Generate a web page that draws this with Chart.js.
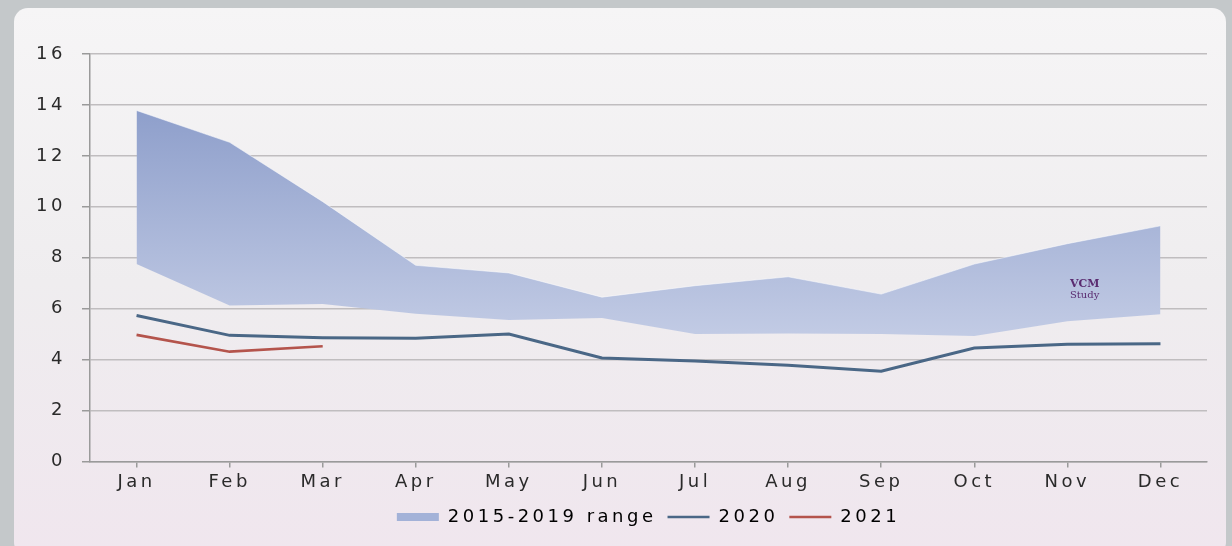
<!DOCTYPE html>
<html>
<head>
<meta charset="utf-8">
<script src="https://cdn.jsdelivr.net/npm/chart.js@4/dist/chart.umd.min.js"></script>
<style>
	html, body { margin: 0; padding: 0; }
	body { width: 1232px; height: 546px; background: #c4c8ca; position: relative; overflow: hidden; }
	#panel {
		position: absolute; left: 14px; top: 8px; width: 1212px; height: 548px;
		border-radius: 14px;
		background: linear-gradient(to bottom, #f6f5f6 0%, #efedef 50%, #f0e6ee 100%);
	}
	#wrap { position: absolute; left: 0; top: 0; width: 1232px; height: 546px; }
	#mark { position: absolute; left: 1070px; top: 278px; font-family: "DejaVu Serif", serif; color: #5a2b70; font-size: 10px; line-height: 11px; }
	#mark b { font-size: 11px; }
</style>
</head>
<body>
<div id="panel"></div>
<div id="wrap"><canvas id="chart" width="1232" height="546"></canvas></div>
<div id="mark"><b>VCM</b><br>Study</div>
<script>
var months = ["Jan", "Feb", "Mar", "Apr", "May", "Jun", "Jul", "Aug", "Sep", "Oct", "Nov", "Dec"];
var rangeHigh = [13.78, 12.53, 10.2, 7.7, 7.4, 6.45, 6.9, 7.25, 6.57, 7.75, 8.55, 9.25];
var rangeLow = [7.75, 6.12, 6.18, 5.8, 5.55, 5.63, 5.0, 5.02, 5.0, 4.92, 5.5, 5.78];
var y2020 = [5.73, 4.95, 4.86, 4.84, 5.0, 4.06, 3.94, 3.78, 3.54, 4.45, 4.6, 4.62];
var y2021 = [4.97, 4.31, 4.52, null, null, null, null, null, null, null, null, null];
var yTicks = [0, 2, 4, 6, 8, 10, 12, 14, 16];

document.addEventListener("DOMContentLoaded", function () {
	var ctx = document.getElementById("chart").getContext("2d");

	// wide letter spacing like the original font
	var spacing = {
		id: "spacing",
		beforeLayout: function (chart) { chart.ctx.letterSpacing = "3.5px"; },
		beforeDraw: function (chart) { chart.ctx.letterSpacing = "3.5px"; }
	};

	function rangeFill(context) {
		var area = context.chart.chartArea;
		if (!area) return "#a9b6d8";
		var g = context.chart.ctx.createLinearGradient(0, 100, 0, 340);
		g.addColorStop(0, "#8c9dca");
		g.addColorStop(1, "#c3cce5");
		return g;
	}

	var chart = new Chart(ctx, {
		type: "line",
		data: {
			labels: months,
			datasets: [
				{
					label: "low",
					data: rangeLow,
					borderWidth: 0,
					pointRadius: 0,
					fill: false
				},
				{
					label: "2015-2019 range",
					data: rangeHigh,
					borderWidth: 1,
					borderColor: "rgba(255,255,255,0.5)",
					backgroundColor: rangeFill,
					pointRadius: 0,
					fill: "-1"
				},
				{
					label: "2020",
					data: y2020,
					borderColor: "#4a6786",
					borderWidth: 3,
					pointRadius: 0,
					fill: false
				},
				{
					label: "2021",
					data: y2021,
					borderColor: "#b4544c",
					borderWidth: 2.6,
					pointRadius: 0,
					fill: false
				}
			]
		},
		options: {
			responsive: false,
			animation: false,
			layout: { padding: { left: 18, right: 25, top: 54, bottom: 10 } },
			elements: { line: { tension: 0 } },
			scales: {
				x: {
					offset: true,
					grid: {
						drawOnChartArea: true,
						color: function (c) { return c.index === months.length ? "#b8b6b8" : "transparent"; },
						tickColor: "#9a9a9a",
						tickLength: 6,
						lineWidth: 1.5
					},
					border: { color: "#9a9a9a", width: 1.5 },
					ticks: {
						color: "#2a2a2a",
						font: { family: "DejaVu Sans", size: 18 },
						padding: 4
					}
				},
				y: {
					min: 0,
					max: 16,
					afterBuildTicks: function (axis) {
						axis.ticks = yTicks.map(function (v) { return { value: v }; });
					},
					afterFit: function (axis) { axis.width = 72; },
					grid: {
						color: "#c0bdbf",
						lineWidth: 1.5,
						tickColor: "#9a9a9a",
						tickLength: 8
					},
					border: { color: "#9a9a9a", width: 1.5 },
					ticks: {
						color: "#2a2a2a",
						font: { family: "DejaVu Sans", size: 18 },
						padding: 16
					}
				}
			},
			plugins: {
				tooltip: { enabled: false },
				legend: {
					position: "bottom",
					fullSize: false,
					labels: {
						color: "#222222",
						font: { family: "DejaVu Sans", size: 18 },
						usePointStyle: true,
						pointStyleWidth: 42,
						boxHeight: 8,
						padding: 11,
						generateLabels: function (chart) {
							return [
								{ text: "2015-2019 range", fillStyle: "#a3b2d8", strokeStyle: "#a3b2d8", lineWidth: 0, pointStyle: "rect", datasetIndex: 1 },
								{ text: "2020", fillStyle: "#4a6786", strokeStyle: "#4a6786", lineWidth: 2.5, pointStyle: "line", datasetIndex: 2 },
								{ text: "2021", fillStyle: "#b4544c", strokeStyle: "#b4544c", lineWidth: 2.5, pointStyle: "line", datasetIndex: 3 }
							];
						}
					}
				}
			}
		},
		plugins: [spacing]
	});
});
</script>
</body>
</html>
